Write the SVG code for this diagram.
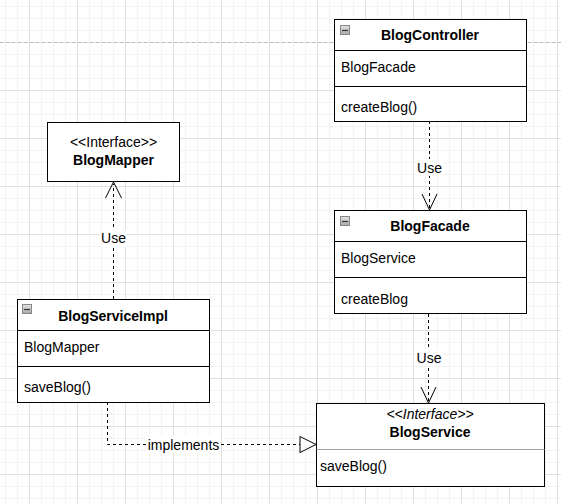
<svg xmlns="http://www.w3.org/2000/svg" width="561" height="504" viewBox="0 0 561 504">
<defs>
<pattern id="grid" patternUnits="userSpaceOnUse" x="29" y="42" width="48" height="48">
<path d="M12.5 0V48M24.5 0V48M36.5 0V48M0 12.5H48M0 24.5H48M0 36.5H48" stroke="#f3f3f3" stroke-width="1" fill="none"/>
<path d="M0.5 0V48M0 0.5H48" stroke="#e0e0e0" stroke-width="1" fill="none"/>
</pattern>
<linearGradient id="ig" x1="0" y1="0" x2="0" y2="1">
<stop offset="0" stop-color="#e4e4e4"/>
<stop offset="1" stop-color="#a8a8a8"/>
</linearGradient>
<g id="minus">
<rect x="0.5" y="0.5" width="9" height="9" fill="url(#ig)" stroke="#888"/>
<path d="M2 5.5H8" stroke="#333" stroke-width="1.2"/>
</g>
</defs>
<style>
.box{fill:#fff;stroke:#000;stroke-width:1}
.div{stroke:#000;stroke-width:1}
.t{font-family:"Liberation Sans",Arial,sans-serif;font-size:14px;fill:#000}
.b{font-weight:bold;text-anchor:middle}
.c{text-anchor:middle}
.i{font-style:italic}
.edge{fill:none;stroke:#000;stroke-width:1;stroke-dasharray:3 3}
.head{fill:none;stroke:#000;stroke-width:1}
.lbl{fill:#fff}
</style>
<rect width="561" height="504" fill="#fff"/>
<rect width="561" height="504" fill="url(#grid)"/>
<path d="M0 42.5H561" stroke="#b8b8b8" stroke-dasharray="3 3"/>

<g id="connectors">
<path class="edge" d="M429.5 121V208"/>
<polyline class="head" points="422,194 429.5,210 437,194"/>
<rect class="lbl" x="416" y="159" width="27" height="17"/>
<text class="t c" x="429.5" y="173">Use</text>

<path class="edge" d="M428.5 314V401"/>
<polyline class="head" points="421,387 428.5,403 436,387"/>
<rect class="lbl" x="415" y="349" width="27" height="17"/>
<text class="t c" x="429" y="363">Use</text>

<path class="edge" d="M113.5 299V184"/>
<polyline class="head" points="105.5,198 113.5,182 121.5,198"/>
<rect class="lbl" x="100" y="230" width="27" height="17"/>
<text class="t c" x="113.5" y="243">Use</text>

<path class="edge" d="M107.5 402V444.5H300"/>
<polygon class="head" points="300,436.5 316,444.5 300,452.5" fill="#fff"/>
<rect class="lbl" x="146" y="436" width="75" height="17"/>
<text class="t c" x="183.5" y="449.5">implements</text>
</g>

<g id="BlogController">
<rect class="box" x="334.5" y="19.5" width="192" height="102"/>
<path class="div" d="M334.5 50.5H526.5M334.5 86.5H526.5"/>
<use href="#minus" x="340" y="25"/>
<text class="t b" x="430" y="40" textLength="98" lengthAdjust="spacing">BlogController</text>
<text class="t" x="341" y="72">BlogFacade</text>
<text class="t" x="341" y="112">createBlog()</text>
</g>

<g id="BlogFacade">
<rect class="box" x="334.5" y="210.5" width="192" height="103"/>
<path class="div" d="M334.5 241.5H526.5M334.5 277.5H526.5"/>
<use href="#minus" x="340" y="216"/>
<text class="t b" x="430" y="231">BlogFacade</text>
<text class="t" x="341" y="263">BlogService</text>
<text class="t" x="341" y="304">createBlog</text>
</g>

<g id="BlogMapper">
<rect class="box" x="47.5" y="122.5" width="132" height="59"/>
<text class="t c" x="113.5" y="147">&lt;&lt;Interface&gt;&gt;</text>
<text class="t b" x="113.5" y="165">BlogMapper</text>
</g>

<g id="BlogServiceImpl">
<rect class="box" x="17.5" y="299.5" width="192" height="103"/>
<path class="div" d="M17.5 330.5H209.5M17.5 366.5H209.5"/>
<use href="#minus" x="22" y="304"/>
<text class="t b" x="113" y="321">BlogServiceImpl</text>
<text class="t" x="24" y="352">BlogMapper</text>
<text class="t" x="24" y="392">saveBlog()</text>
</g>

<g id="BlogService">
<rect class="box" x="316.5" y="403.5" width="228" height="83"/>
<path d="M316.5 449.5H544.5" stroke="#a0a0a0"/>
<text class="t c i" x="430" y="419">&lt;&lt;Interface&gt;&gt;</text>
<text class="t b" x="430" y="437">BlogService</text>
<text class="t" x="320" y="471">saveBlog()</text>
</g>
</svg>
